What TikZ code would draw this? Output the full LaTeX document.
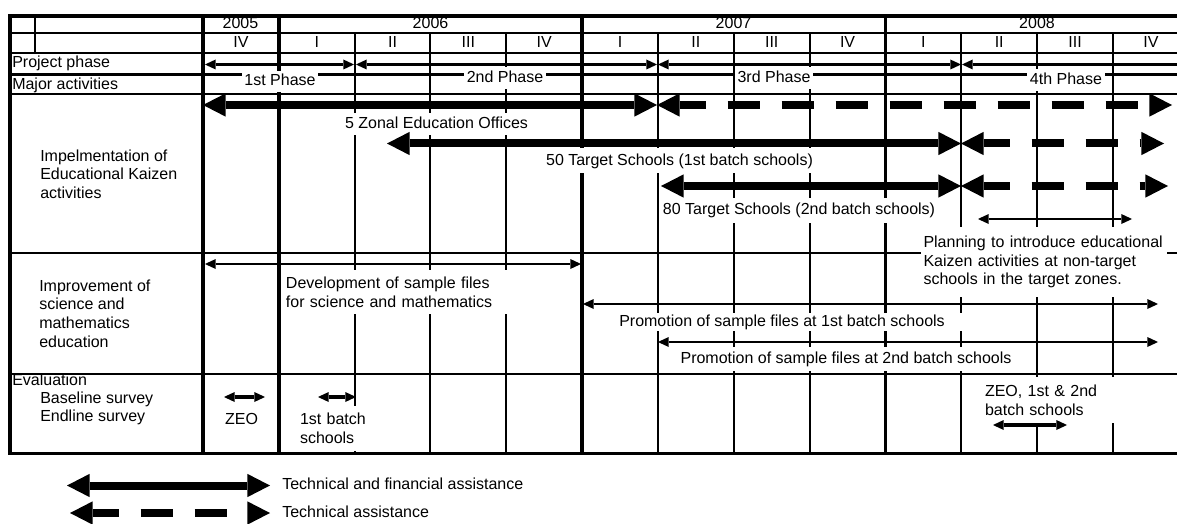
\documentclass[tikz,border=0pt]{standalone}
\usepackage{fontspec}
\setmainfont{Liberation Sans}
\usetikzlibrary{arrows.meta}
\begin{document}
\begin{tikzpicture}[x=0.75pt,y=-0.75pt,
  every node/.style={font=\fontsize{12}{14}\selectfont, inner sep=0pt},
  heavy/.style={line width=2.6pt, line cap=rect},
  medium/.style={line width=2.1pt, line cap=rect},
  light/.style={line width=1.5pt, line cap=rect},
  cell/.style={text height=8.6pt, text depth=2.4pt},
  rowlabel/.style={anchor=west, align=left},
  plate/.style={fill=white, inner xsep=2pt, inner ysep=2.5pt, text height=8.6pt, text depth=2.4pt},
  board/.style={fill=white, inner xsep=2.25pt, inner ysep=0pt, align=left},
  phasearrow/.style={line width=1.6pt,
    arrows={Triangle[length=8pt,width=7.5pt,line width=0pt]-Triangle[length=8pt,width=7.5pt,line width=0pt]}},
  phaseopen/.style={line width=1.6pt,
    arrows={Triangle[length=8pt,width=7.5pt,line width=0pt]-}},
  slimarrow/.style={line width=2.2pt,
    arrows={Triangle[length=8pt,width=7.5pt,line width=0pt]-Triangle[length=8pt,width=7.5pt,line width=0pt]}},
  evalarrow/.style={line width=2.4pt,
    arrows={Triangle[length=8pt,width=7.5pt,line width=0pt]-Triangle[length=8pt,width=7.5pt,line width=0pt]}},
  bigarrow/.style={line width=6pt,
    arrows={Triangle[length=17pt,width=17.5pt,line width=0pt]-Triangle[length=17pt,width=17.5pt,line width=0pt]}},
  dasharrow/.style={bigarrow, dash pattern=on 24pt off 16.5pt, dash phase=4.5pt}
]
\useasboundingbox (0,0) rectangle (1177,524);

% ---------- grid ----------
\draw[heavy]  (10,16)    -- (1182,16);
\draw[light]  (10,33)    -- (1182,33);
\draw[light]  (10,53)    -- (1182,53);
\draw[heavy]  (10,74.5)  -- (1182,74.5);
\draw[medium] (10,94)    -- (1182,94);
\draw[medium] (10,253)   -- (1182,253);
\draw[medium] (10,374)   -- (1182,374);
\draw[heavy]  (10,453.5) -- (1182,453.5);

\draw[heavy] (10,16) -- (10,453.5);
\draw[light] (35,16) -- (35,53);
\foreach \k in {0,1,5,9}
  \draw[heavy] ({203+\k*75.83},16) -- ({203+\k*75.83},453.5);
\foreach \k in {2,3,4,6,7,8,10,11,12}
  \draw[light] ({203+\k*75.83},33) -- ({203+\k*75.83},453.5);

% ---------- header ----------
\node[cell] (y2005) at (240.5,24.5) {2005};
\node[cell] (y2006) at (430.5,24.5) {2006};
\node[cell] (y2007) at (733.5,24.5) {2007};
\node[cell] (y2008) at (1037,24.5) {2008};
\foreach \q [count=\k from 0] in {IV,I,II,III,IV,I,II,III,IV,I,II,III,IV}
  \node[cell] (q\k) at ({203+(\k+0.5)*75.83},43) {\q};

% ---------- row labels ----------
\node[rowlabel,cell] (lphase) at (12,63.5) {Project phase};
\node[rowlabel,cell] (lmajor) at (12,85) {Major activities};
\node[rowlabel] (limpl) at (40,174) {Impelmentation of\\Educational Kaizen\\activities};
\node[rowlabel] (lsci) at (39,313.5) {Improvement of\\science and\\mathematics\\education};
\node[rowlabel,cell] (leval) at (12,381.5) {Evaluation};
\node[rowlabel,cell] (lbase) at (40,399.5) {Baseline survey};
\node[rowlabel,cell] (lend) at (40,417.5) {Endline survey};

% ---------- phase labels ----------
\node[plate] (ph1) at (280,81.5) {1st Phase};
\node[plate] (ph2) at (505,78) {2nd Phase};
\node[plate] (ph3) at (774,78) {3rd Phase};
\node[plate] (ph4) at (1066,80) {4th Phase};

% ---------- activity labels ----------
\node[plate, inner xsep=3pt, minimum height=17pt] (zonal) at (436.5,124) {5 Zonal Education Offices};
\node[plate, inner xsep=3pt, minimum height=18.75pt] (batch1) at (679.5,161) {50 Target Schools (1st batch schools)};
\node[plate, inner xsep=3pt, minimum height=18.75pt] (batch2) at (799,210) {80 Target Schools (2nd batch schools)};
\node[board, text width=180pt, minimum height=53pt] (plan) at (1043.5,262)
  {Planning to introduce educational\\Kaizen activities at non-target\\schools in the target zones.};
\node[board, text width=170pt, minimum height=33pt] (devt) at (399.3,292)
  {Development of sample files\\for science and mathematics};
\node[plate, minimum width=274pt, inner ysep=1pt] (prom1) at (782,322) {Promotion of sample files at 1st batch schools};
\node[plate, minimum width=262.5pt, minimum height=18pt] (prom2) at (846,359) {Promotion of sample files at 2nd batch schools};
\node[cell] (zeo) at (241.5,420) {ZEO};
\node[board, text width=51pt, minimum height=33.75pt] (firstb) at (334,428.5) {1st batch\\schools};
\node[board, text width=100.5pt, minimum height=34pt] (allb) at (1052,400) {ZEO, 1st \& 2nd\\batch schools};

% ---------- project phases ----------
\draw[phasearrow] (205,64.5) -- (354,64.5);
\draw[phasearrow] (356,64.5) -- (657,64.5);
\draw[phasearrow] (658,64.5) -- (961,64.5);
\draw[phaseopen]  (962,64.5) -- (1182,64.5);

% ---------- Kaizen activities ----------
\draw[bigarrow]  (203,105) -- (657,105);
\draw[dasharrow] (657,105) -- (1172,105);
\draw[bigarrow]  (387,143.5) -- (961,143.5);
\draw[dasharrow] (961,143.5) -- (1164,143.5);
\draw[bigarrow]  (661,186) -- (961,186);
\draw[dasharrow] (961,186) -- (1168,186);
\draw[slimarrow] (978,219) -- (1132,219);

% ---------- science and mathematics ----------
\draw[slimarrow] (205,264) -- (581,264);
\draw[slimarrow] (583,304) -- (1158,304);
\draw[slimarrow] (658,342) -- (1158,342);

% ---------- evaluation ----------
\draw[evalarrow] (224,397) -- (265,397);
\draw[evalarrow] (318,397) -- (356,397);
\draw[evalarrow] (993,425) -- (1067,425);

% ---------- legend ----------
\draw[bigarrow]  (67,485.5) -- (270,485.5);
\node[rowlabel,cell] (legsolid) at (282,485.5) {Technical and financial assistance};
\draw[dasharrow] (70,513) -- (270,513);
\node[rowlabel,cell] (legdash) at (282,513) {Technical assistance};
\end{tikzpicture}
\end{document}
